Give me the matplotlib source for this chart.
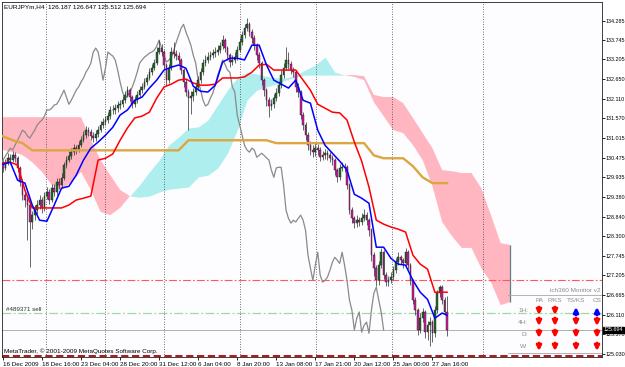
import numpy as np
import matplotlib
matplotlib.use("Agg")
import matplotlib.pyplot as plt

plt.rcParams['font.family'] = ['Liberation Sans', 'DejaVu Sans']

W, H = 625, 367

# ---- EURJPYm H4, 16 Dec 2009 .. 27 Jan 2010 (183 bars) ----
first_open = 130.30
closes = [130.19, 130.33, 130.47, 130.41, 130.55, 130.47, 130.19, 129.80, 129.44, 129.30,
          129.16, 128.69, 128.88, 129.02, 129.16, 129.30, 129.08, 129.41, 129.52, 129.30,
          129.63, 129.52, 129.80, 129.72, 129.91, 130.27, 130.41, 130.52, 130.63, 130.74,
          130.69, 130.83, 130.96, 131.10, 131.24, 131.19, 131.08, 131.02, 131.13, 131.24,
          131.38, 131.46, 131.52, 131.63, 131.80, 131.80, 131.85, 131.94, 131.96, 132.07,
          132.21, 132.35, 132.16, 131.96, 132.07, 132.21, 132.35, 132.44, 132.58, 132.69,
          132.85, 132.96, 133.10, 133.41, 133.52, 133.41, 133.05, 132.63, 132.96, 133.41,
          133.35, 133.30, 133.19, 132.91, 132.58, 132.30, 132.13, 132.19, 132.30, 132.44,
          132.63, 132.85, 133.10, 133.19, 133.27, 133.32, 133.38, 133.41, 133.46, 133.57,
          133.74, 133.52, 133.32, 133.13, 133.19, 133.27, 133.46, 133.68, 133.88, 134.07,
          134.18, 133.96, 133.79, 133.60, 133.32, 133.10, 132.63, 132.35, 132.07, 131.91,
          131.96, 132.13, 132.27, 132.49, 132.77, 132.96, 133.19, 133.07, 132.91, 132.85,
          132.44, 132.30, 131.66, 131.38, 131.10, 130.82, 130.69, 130.63, 130.74, 130.69,
          130.49, 130.54, 130.60, 130.54, 130.47, 130.41, 130.13, 129.93, 130.19, 130.21,
          130.21, 129.71, 129.02, 128.79, 128.66, 128.74, 128.69, 128.79, 128.88, 128.74,
          128.46, 127.77, 127.41, 127.07, 127.49, 127.85, 127.21, 127.02, 127.07, 127.16,
          127.35, 127.57, 127.71, 127.63, 127.54, 127.85, 127.49, 127.07, 126.52, 126.24,
          125.69, 126.02, 126.19, 125.63, 125.82, 125.91, 125.60, 126.24, 126.71, 126.88,
          126.52, 126.187, 125.694]
highs = [130.42, 130.45, 130.60, 130.58, 130.66, 130.63, 130.52, 130.25, 129.88, 129.55,
         129.40, 129.25, 129.00, 129.15, 129.30, 129.45, 129.38, 129.52, 129.66, 129.60,
         129.75, 129.74, 129.92, 129.90, 130.05, 130.35, 130.52, 130.65, 130.75, 130.85,
         130.82, 130.95, 131.08, 131.22, 131.36, 131.33, 131.28, 131.18, 131.25, 131.36,
         131.50, 131.58, 131.64, 131.75, 131.92, 131.93, 131.97, 132.06, 132.08, 132.18,
         132.33, 132.48, 132.42, 132.22, 132.20, 132.33, 132.46, 132.56, 132.70, 132.80,
         132.97, 133.08, 133.22, 133.55, 133.74, 133.62, 133.46, 133.10, 133.08, 133.55,
         133.70, 133.48, 133.40, 133.25, 132.98, 132.65, 132.38, 132.32, 132.42, 132.56,
         132.75, 132.97, 133.22, 133.32, 133.40, 133.45, 133.50, 133.54, 133.60, 133.70,
         133.88, 133.80, 133.58, 133.38, 133.32, 133.40, 133.58, 133.80, 134.00, 134.20,
         134.35, 134.25, 134.05, 133.88, 133.66, 133.40, 133.16, 132.70, 132.42, 132.15,
         132.10, 132.25, 132.40, 132.60, 132.90, 133.10, 133.55, 133.40, 133.15, 133.00,
         132.92, 132.55, 132.36, 131.75, 131.46, 131.20, 130.95, 130.82, 130.88, 130.85,
         130.76, 130.66, 130.72, 130.70, 130.62, 130.56, 130.48, 130.20, 130.30, 130.35,
         130.34, 130.26, 129.78, 129.10, 128.85, 128.88, 128.82, 128.95, 129.05, 128.98,
         128.80, 128.52, 127.85, 127.50, 127.62, 127.98, 127.92, 127.30, 127.20, 127.30,
         127.48, 127.70, 127.85, 127.78, 127.70, 127.98, 127.92, 127.56, 127.12, 126.60,
         126.30, 126.15, 126.30, 126.25, 125.95, 126.05, 125.98, 126.35, 126.80, 126.95,
         126.95, 126.60, 126.647]
lows = [130.08, 130.12, 130.28, 130.30, 130.36, 130.35, 130.08, 129.70, 129.30, 129.12,
        128.20, 127.43, 128.50, 128.75, 128.90, 129.05, 128.95, 129.00, 129.33, 129.18,
        129.25, 129.40, 129.45, 129.60, 129.65, 129.85, 130.18, 130.35, 130.44, 130.55,
        130.58, 130.62, 130.76, 130.90, 131.02, 131.08, 130.97, 130.90, 130.94, 131.05,
        131.18, 131.30, 131.38, 131.44, 131.55, 131.68, 131.70, 131.75, 131.82, 131.88,
        132.00, 132.15, 132.05, 131.85, 131.88, 132.00, 132.14, 132.28, 132.38, 132.50,
        132.62, 132.78, 132.90, 133.05, 133.35, 133.30, 132.95, 132.50, 132.55, 132.90,
        133.25, 133.18, 133.08, 132.80, 132.45, 132.18, 131.24, 131.70, 132.05, 132.22,
        132.36, 132.55, 132.78, 133.02, 133.10, 133.18, 133.24, 133.28, 133.32, 133.38,
        133.50, 133.42, 133.20, 133.00, 133.05, 133.10, 133.20, 133.40, 133.60, 133.80,
        134.00, 133.85, 133.65, 133.48, 133.20, 132.98, 132.50, 132.20, 131.90, 131.60,
        131.80, 131.85, 132.05, 132.20, 132.40, 132.70, 132.90, 132.95, 132.80, 132.72,
        132.30, 132.15, 131.55, 131.25, 130.98, 130.70, 130.55, 130.50, 130.52, 130.55,
        130.38, 130.40, 130.45, 130.42, 130.35, 130.28, 130.00, 129.80, 129.85, 130.10,
        130.08, 129.60, 128.92, 128.65, 128.52, 128.55, 128.58, 128.60, 128.72, 128.62,
        128.30, 127.62, 127.20, 126.90, 126.95, 127.40, 127.10, 126.90, 126.92, 127.00,
        127.08, 127.28, 127.50, 127.52, 127.42, 127.48, 127.38, 126.95, 126.40, 126.10,
        125.55, 125.60, 125.90, 125.48, 125.40, 125.25, 125.35, 125.50, 126.15, 126.60,
        126.40, 126.10, 125.512]

# Ichimoku lines (every 3rd bar, plus the last one)
line_bars = list(range(0, 181, 3)) + [182]
tenkan = [130.29, 130.35, 129.85, 129.77, 129.16, 128.74, 128.71, 129.16, 129.63, 129.68,
          129.99, 130.41, 130.74, 130.91, 131.10, 131.32, 131.66, 131.80, 132.07, 132.16,
          132.41, 132.63, 132.91, 132.99, 133.05, 132.96, 132.46, 132.32, 132.30, 132.49,
          133.13, 133.24, 133.24, 133.19, 133.60, 133.60, 133.05, 132.63, 132.52, 132.41,
          132.63, 132.07, 131.99, 131.24, 130.82, 130.60, 130.38, 130.13, 129.46, 129.35,
          129.21, 127.99, 127.99, 127.68, 127.52, 127.49, 127.07, 126.74, 126.54, 126.02,
          126.16, 126.10]
kijun = [130.33, 130.35, 130.27, 129.57, 129.08, 129.08, 129.08, 129.08, 129.08, 129.16,
         129.30, 129.35, 129.41, 130.41, 130.46, 130.58, 130.96, 131.30, 131.58, 131.63,
         131.74, 132.13, 132.44, 132.52, 132.63, 132.66, 132.55, 132.49, 132.49, 132.52,
         132.69, 132.69, 132.69, 132.72, 132.85, 133.05, 133.07, 132.91, 132.91, 132.91,
         132.91, 132.63, 132.35, 131.96, 131.85, 131.74, 131.72, 131.52, 130.91, 130.38,
         129.66, 128.74, 128.63, 128.55, 128.49, 128.41, 127.77, 127.52, 127.38, 126.74,
         126.74, 126.74]

# daily level line (orange), every 4th bar
d1_bars = list(range(0, 181, 4)) + [182]
d1_line = [131.07, 130.96, 130.88] + [130.68] * 16 + [130.96] * 9 + [130.88] * 10 + \
          [130.54, 130.46, 130.46, 130.46, 130.24, 129.93, 129.77, 129.77, 129.77]

# cloud (shifted 26 bars forward), every 4th bar
cloud_bars = list(range(0, 209, 4))
span_a = [130.69, 130.63, 130.55, 130.35, 130.08, 129.72, 129.58, 129.80, 130.08,
          129.58, 128.97, 128.88, 129.08, 129.41, 129.72, 130.08, 130.41, 130.83,
          131.05, 131.30, 131.33, 131.52, 131.94, 132.35, 132.69, 132.85, 132.80,
          132.74, 132.69, 132.69, 132.77, 132.91, 133.05, 133.27, 132.85, 132.77,
          132.72, 132.63, 132.02, 131.63, 131.24, 131.16, 130.83, 130.41, 129.69,
          128.69, 128.30, 127.97, 127.97, 127.41, 127.02, 126.38, 126.47]
span_b = [131.60] * 9 + \
         [130.97, 130.41, 129.99, 129.58, 129.41, 129.38, 129.41, 129.52, 129.60,
          129.63, 129.66, 129.94, 129.99, 130.19, 130.60, 131.24, 132.08, 132.35,
          132.44, 132.52, 132.63, 132.72, 132.77, 132.77, 132.77, 132.77, 132.77,
          132.77, 132.74, 132.22, 132.16, 132.16, 131.99, 131.58, 131.16, 130.74,
          130.13, 130.10, 130.05, 130.05, 129.63, 128.88, 128.10, 128.05]

date_ticks = [0, 16, 32, 48, 64, 80, 96, 112, 128, 144, 160, 176]
date_labels = ['16 Dec 2009', '18 Dec 16:00', '23 Dec 04:00', '28 Dec 20:00',
               '31 Dec 12:00', '6 Jan 04:00', '8 Jan 20:00', '13 Jan 08:00',
               '17 Jan 21:00', '20 Jan 12:00', '25 Jan 00:00', '27 Jan 16:00']
price_ticks = [134.285, 133.745, 133.205, 132.650, 132.110, 131.570, 131.015,
               130.475, 129.935, 129.380, 128.840, 128.300, 127.745, 127.205,
               126.665, 126.110, 125.570, 125.030]
grid_bars = [17.6, 41.8, 66.0, 97.1, 128.3, 159.4, 196.7]

alert_price = 127.07
order_price = 126.15
bid = 125.694
stop_price = 124.98

monitor_rows = ['1H:', '4H:', 'D:', 'W:']
monitor_cols = ['PA', 'P/KS', 'TS/KS', 'CS']
monitor_signals = [[-1, -1, 1, 1],
                   [-1, -1, -1, -1],
                   [-1, -1, -1, -1],
                   [-1, -1, -1, -1]]

# ----------------------------------------------------------------
o = np.array([first_open] + closes[:-1])
c = np.array(closes)
hi = np.array(highs)
lo = np.array(lows)
bars = np.arange(len(c))

fig = plt.figure(figsize=(W / 100, H / 100), dpi=100)
fig.patch.set_facecolor('white')
ax = fig.add_axes([2 / W, 1 - 357 / H, 600 / W, 355 / H])
ax.set_facecolor('#fdfcfe')

cb = np.array(cloud_bars)
sa = np.array(span_a)
sb = np.array(span_b)
ax.fill_between(cb, sa, sb, where=sa >= sb, interpolate=True, color='#afeeee', lw=0, zorder=1)
ax.fill_between(cb, sa, sb, where=sa < sb, interpolate=True, color='#ffb6c1', lw=0, zorder=1)
ax.vlines(cb[-1], sb[-1], sa[-1], color='#5f8080', lw=0.9, zorder=2)

for g in grid_bars:
    ax.axvline(g, color='#404040', lw=0.6, ls=(0, (1, 2)), zorder=1.5)

ax.axhline(alert_price, color='#ff5a5a', lw=0.8, ls=(0, (7, 2, 1.5, 2)), zorder=2)
ax.axhline(order_price, color='#98e098', lw=0.9, ls=(0, (7, 2, 1.5, 2)), zorder=2)
ax.axhline(bid, color='#b0b0b0', lw=0.7, zorder=2)
ax.axhline(stop_price, color='#b00000', lw=1.3, ls=(0, (4, 2)), zorder=2)

# chikou span
ax.plot(bars - 26, c, color='#8a8a8a', lw=0.9, zorder=3)

# candles
up = c >= o
ax.vlines(bars, lo, hi, color='#2b2b2b', lw=0.5, zorder=4)
ax.bar(bars[up], np.maximum((c - o)[up], 0.01), bottom=o[up], width=0.7,
       color='#1f6e2a', edgecolor='#1a1a1a', lw=0.3, zorder=5)
ax.bar(bars[~up], (o - c)[~up], bottom=c[~up], width=0.7,
       color='#d01aa0', edgecolor='#1a1a1a', lw=0.3, zorder=5)

ax.plot(d1_bars, d1_line, color='#dca640', lw=1.7, zorder=6)
ax.plot(line_bars, kijun, color='#ff0000', lw=1.1, zorder=7)
ax.plot(line_bars, tenkan, color='#0000ff', lw=1.1, zorder=8)

ax.set_xlim(-0.4, 245.5)
ax.set_ylim(124.94, 134.80)

ax.yaxis.tick_right()
ax.set_yticks(price_ticks)
ax.set_yticklabels(['%.3f' % p for p in price_ticks])
ax.tick_params(axis='y', direction='out', length=1.8, width=0.6, labelsize=3.9, pad=0.6)
ax.set_xticks(date_ticks)
ax.set_xticklabels(date_labels)
for lab in ax.get_xticklabels():
    lab.set_ha('left')
ax.tick_params(axis='x', direction='out', length=2.5, width=0.6, labelsize=4.5, pad=0.8)
for s in ax.spines.values():
    s.set_linewidth(0.6)
    s.set_color('#202020')

ax.annotate('%.3f' % bid, xy=(1, bid), xycoords=('axes fraction', 'data'),
            xytext=(1.0, 0), textcoords='offset points', ha='left', va='center',
            fontsize=3.9, color='white', annotation_clip=False, zorder=10,
            bbox=dict(boxstyle='square,pad=0.15', fc='black', ec='black'))

ax.text(0.006, order_price + 0.05, '#489371 sell', fontsize=4.5, color='#303030',
        transform=ax.get_yaxis_transform(), va='bottom', ha='left')

fig.text(4 / W, 1 - 7 / H, 'EURJPYm,H4  126.187 126.647 125.512 125.694',
         fontsize=4.6, ha='left', va='center', color='black')
fig.text(4 / W, 1 - 351 / H, 'MetaTrader, \u00a9 2001-2009 MetaQuotes Software Corp.',
         fontsize=4.6, ha='left', va='center', color='black')

# ich360 monitor panel
grey = '#8c8c8c'
fig.text(600 / W, 1 - 290 / H, 'ich360 Monitor v2', fontsize=4.6, color=grey,
         ha='right', va='center')
fig.add_artist(plt.Line2D([508 / W, 601 / W], [1 - 295 / H, 1 - 295 / H],
                          color='#a8a8a8', lw=0.6))
fig.add_artist(plt.Line2D([508 / W, 601 / W], [1 - 353 / H, 1 - 353 / H],
                          color='#a8a8a8', lw=0.6))
col_x = [539, 555, 576, 597]
row_y = [311, 322, 334, 347]
for name, x in zip(monitor_cols, col_x):
    fig.text(x / W, 1 - 301 / H, name, fontsize=4.6, color=grey, ha='center', va='center')
for r, (name, y) in enumerate(zip(monitor_rows, row_y)):
    fig.text(528 / W, 1 - y / H, name, fontsize=4.6, color=grey, ha='right', va='center')
    for s, x in zip(monitor_signals[r], col_x):
        colr = '#0000ff' if s > 0 else '#ff0000'
        y0, y1 = (H - y - 4, H - y + 4) if s > 0 else (H - y + 4, H - y - 4)
        ax.annotate('', xy=(x, y1), xytext=(x, y0), xycoords='figure pixels',
                    textcoords='figure pixels', annotation_clip=False,
                    arrowprops=dict(arrowstyle='-|>', color=colr, lw=2.0,
                                    mutation_scale=7, shrinkA=0, shrinkB=0))

fig.savefig('out.png', dpi=100)
